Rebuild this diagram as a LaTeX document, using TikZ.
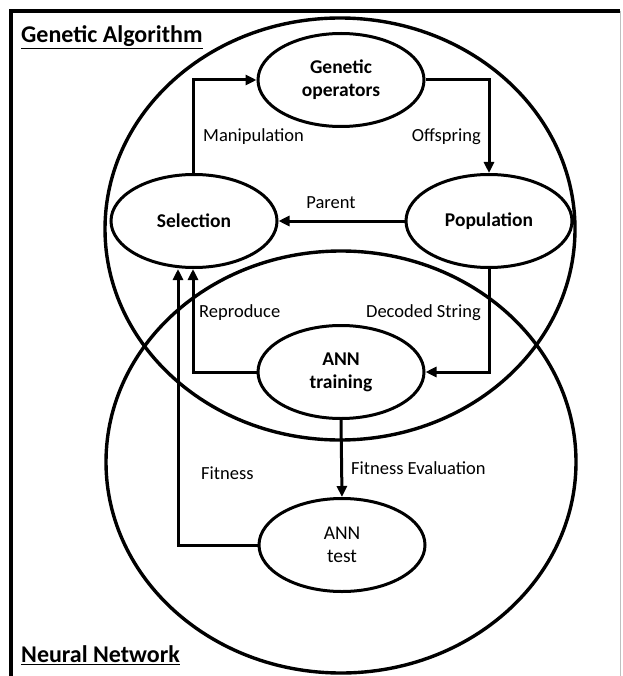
\documentclass[tikz,border=0pt]{standalone}
\usepackage{fontspec}
\setmainfont{Carlito}
\usetikzlibrary{shapes.geometric,arrows.meta}
\begin{document}
\begin{tikzpicture}[x=1pt,y=-1pt,
  big/.style={ellipse,draw,line width=3.4pt,inner sep=0pt,minimum width=470pt,minimum height=422pt},
  proc/.style={ellipse,draw,line width=3pt,inner sep=0pt,minimum width=166pt,minimum height=93pt,font=\fontsize{19.5}{23}\selectfont\bfseries,align=center},
  conn/.style={line width=3pt,-{Triangle[length=11pt,width=10pt]}},
  lbl/.style={font=\fontsize{18.5}{22}\selectfont,inner sep=0pt},
  title/.style={font=\fontsize{24}{28}\selectfont\bfseries,inner sep=0pt,anchor=west}]
\useasboundingbox (0,0) rectangle (622,676);
\fill[white] (0,0) rectangle (622,676);
% frame
\draw[line width=3.5pt] (11,676) -- (11,11) -- (620,11);
\draw[line width=0.8pt,black!25] (620.5,11) -- (620.5,676);
% big ellipses
\node[big] (ga) at (340,229) {};
\node[big] (nn) at (341,462) {};
% titles
\node[title] (tga) at (21,37) {\underline{Genetic Algorithm}};
\node[title] (tnn) at (21,655) {\underline{Neural Network}};
% process nodes
\node[proc] (go) at (341,80) {Genetic\\operators};
\node[proc] (sel) at (194,221) {Selection};
\node[proc] (pop) at (489,221) {Population};
\node[proc] (tr) at (341,372) {ANN\\training};
\node[proc,font=\fontsize{19.5}{23}\selectfont] (te) at (342,545) {ANN\\test};
% connectors
\draw[conn] (sel.north -| 193,0) |- (go.west);
\draw[conn] (go.east) -| (pop.north);
\draw[conn] (pop.west) -- (sel.east);
\draw[conn] (pop.south) |- (tr.east);
\draw[conn] (tr.west) -| (sel.south -| 193,0);
\draw[conn] (tr.south) -- (te.north);
\coordinate (fx) at (178,0);
\draw[conn] (te.west) -| (fx |- sel.south);
% labels
\node[lbl,anchor=west] (l1) at (203,137) {Manipulation};
\node[lbl,anchor=east] (l2) at (481,137) {Offspring};
\node[lbl] (l3) at (331,203) {Parent};
\node[lbl,anchor=west] (l4) at (199,313) {Reproduce};
\node[lbl,anchor=east] (l5) at (481,313) {Decoded String};
\node[lbl,anchor=west] (l6) at (201,473) {Fitness};
\node[lbl,anchor=west] (l7) at (351,468) {Fitness Evaluation};
\end{tikzpicture}
\end{document}
